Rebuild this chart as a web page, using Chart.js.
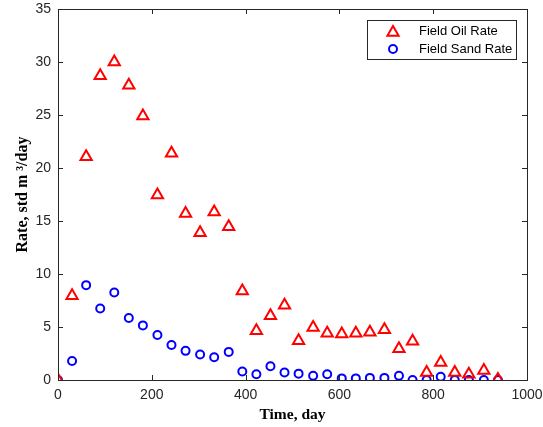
<!DOCTYPE html>
<html>
<head>
<meta charset="utf-8">
<script src="https://cdn.jsdelivr.net/npm/chart.js@4.4.1/dist/chart.umd.min.js"></script>
<style>
  html, body { margin: 0; padding: 0; background: #fff; }
  #wrap { width: 543px; height: 427px; }
</style>
</head>
<body>
<div id="wrap"><canvas id="grafico" width="543" height="427"></canvas></div>
<script>
// ==================== DATOS ====================
const dias = [0, 30, 60, 90, 120, 151, 181, 212, 242, 272, 303, 333, 364, 393, 423, 453,
              483, 513, 544, 574, 605, 635, 665, 696, 727, 756, 786, 816, 846, 876, 908, 938];
const oilRate = [0, 7.95, 21.05, 28.7, 30.0, 27.8, 24.9, 17.45, 21.4, 15.7, 13.9, 15.85, 14.45, 8.4, 4.65, 6.05,
                 7.05, 3.7, 4.95, 4.4, 4.35, 4.4, 4.5, 4.75, 2.95, 3.65, 0.7, 1.65, 0.7, 0.55, 0.9, 0.05];
const sandRate = [0, 1.8, 8.95, 6.75, 8.25, 5.85, 5.15, 4.25, 3.3, 2.75, 2.4, 2.15, 2.65, 0.8, 0.55, 1.3,
                  0.7, 0.6, 0.4, 0.55, 0.15, 0.15, 0.2, 0.2, 0.4, 0, 0, 0.3, 0, 0, 0, 0];
const etiquetas = ['Field Oil Rate', 'Field Sand Rate'];
const xTicks = [0, 200, 400, 600, 800, 1000];
const yTicks = [0, 5, 10, 15, 20, 25, 30, 35];

const colorEje = '#262626';

function aPuntos(valores) {
    return dias.map((d, i) => ({ x: d, y: valores[i] }));
}

// caja + marcas hacia adentro (estilo MATLAB)
const cajaPlugin = {
    id: 'caja',
    afterDatasetsDraw(chart) {
        const ctx = chart.ctx;
        const a = chart.chartArea;
        const sx = chart.scales.x, sy = chart.scales.y;
        ctx.save();
        ctx.strokeStyle = colorEje;
        ctx.lineWidth = 1;
        ctx.strokeRect(Math.round(a.left) + 0.5, Math.round(a.top) + 0.5,
                       Math.round(a.right - a.left), Math.round(a.bottom - a.top));
        ctx.beginPath();
        xTicks.forEach(v => {
            const px = Math.round(sx.getPixelForValue(v)) + 0.5;
            ctx.moveTo(px, a.bottom); ctx.lineTo(px, a.bottom - 5);
            ctx.moveTo(px, a.top); ctx.lineTo(px, a.top + 5);
        });
        yTicks.forEach(v => {
            const py = Math.round(sy.getPixelForValue(v)) + 0.5;
            ctx.moveTo(a.left, py); ctx.lineTo(a.left + 5, py);
            ctx.moveTo(a.right, py); ctx.lineTo(a.right - 5, py);
        });
        ctx.stroke();
        ctx.restore();
    },
    afterDraw(chart) {
        // leyenda dentro del area, arriba a la derecha
        const ctx = chart.ctx;
        const a = chart.chartArea;
        const bx = a.right - 11, by = a.top + 11, bw = 149, bh = 39;
        ctx.save();
        ctx.fillStyle = '#fff';
        ctx.fillRect(bx - bw, by, bw, bh);
        ctx.strokeStyle = colorEje;
        ctx.lineWidth = 1;
        ctx.strokeRect(Math.round(bx - bw) + 0.5, Math.round(by) + 0.5, bw, bh);
        ctx.font = '13px "Liberation Sans", Arial, sans-serif';
        ctx.textBaseline = 'middle';
        ctx.fillStyle = '#000';
        chart.data.datasets.forEach((ds, i) => {
            const y = by + 11 + i * 18;
            const mx = bx - bw + 26;
            ctx.strokeStyle = ds.borderColor;
            ctx.lineWidth = 2;
            ctx.beginPath();
            if (ds.pointStyle === 'triangle') {
                const r = 6.5;
                ctx.moveTo(mx, y - r + 1.5);
                ctx.lineTo(mx + r * 0.866, y + r / 2 + 1.5);
                ctx.lineTo(mx - r * 0.866, y + r / 2 + 1.5);
                ctx.closePath();
            } else {
                ctx.arc(mx, y, 4, 0, Math.PI * 2);
            }
            ctx.stroke();
            ctx.fillText(ds.label, bx - bw + 52, y);
        });
        ctx.restore();
    }
};

const ctx = document.getElementById('grafico').getContext('2d');
const grafico = new Chart(ctx, {
    type: 'scatter',
    data: {
        datasets: [{
            label: etiquetas[0],
            data: aPuntos(oilRate),
            pointStyle: 'triangle',
            pointRadius: 6.5,
            pointBorderWidth: 2,
            borderColor: '#ff0000',
            backgroundColor: 'rgba(0,0,0,0)'
        }, {
            label: etiquetas[1],
            data: aPuntos(sandRate),
            pointStyle: 'circle',
            pointRadius: 4,
            pointBorderWidth: 2,
            borderColor: '#0000ff',
            backgroundColor: 'rgba(0,0,0,0)'
        }]
    },
    options: {
        responsive: false,
        animation: false,
        devicePixelRatio: 1,
        layout: { padding: { top: 9, right: 0, left: 0, bottom: 0 } },
        plugins: { legend: { display: false }, tooltip: { enabled: false } },
        scales: {
            x: {
                type: 'linear', min: 0, max: 1000,
                afterBuildTicks: s => { s.ticks = xTicks.map(v => ({ value: v })); },
                afterFit: s => { s.height = 47; s.paddingLeft = 0; s.paddingRight = 16; },
                grid: { display: false, drawTicks: false },
                border: { display: false },
                ticks: { padding: 7, color: colorEje, maxRotation: 0,
                         callback: v => String(v),
                         font: { family: '"Liberation Sans", Arial, sans-serif', size: 14 } },
                title: { display: true, text: 'Time, day', color: '#000',
                         padding: { top: 0, bottom: 3 },
                         font: { family: '"Liberation Serif", "Times New Roman", serif', size: 15.5, weight: 'bold' } }
            },
            y: {
                type: 'linear', min: 0, max: 35,
                afterBuildTicks: s => { s.ticks = yTicks.map(v => ({ value: v })); },
                afterFit: s => { s.width = 58; s.paddingTop = 0; s.paddingBottom = 0; },
                grid: { display: false, drawTicks: false },
                border: { display: false },
                ticks: { padding: 7, color: colorEje,
                         font: { family: '"Liberation Sans", Arial, sans-serif', size: 14 } },
                title: { display: true, text: 'Rate, std m ³/day', color: '#000',
                         padding: { top: 13, bottom: 0 },
                         font: { family: '"Liberation Serif", "Times New Roman", serif', size: 16, weight: 'bold' } }
            }
        }
    },
    plugins: [cajaPlugin]
});
</script>
</body>
</html>
